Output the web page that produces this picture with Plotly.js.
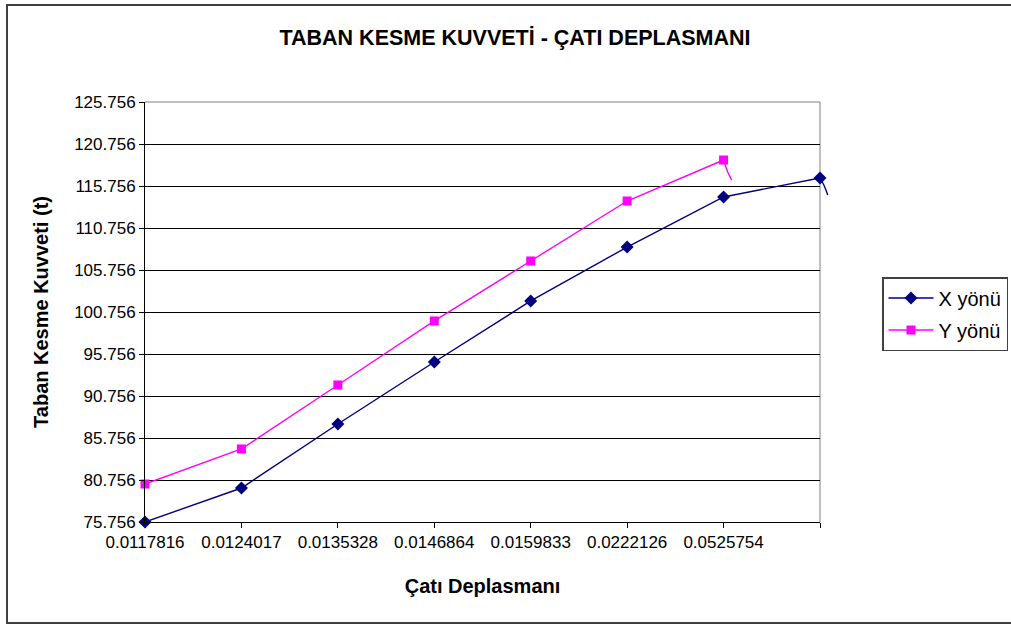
<!DOCTYPE html>
<html>
<head>
<meta charset="utf-8">
<script src="https://cdn.plot.ly/plotly-3.0.1.min.js"></script>
<style>html,body{margin:0;padding:0;background:#fff;}#chart{width:1011px;height:625px;}</style>
</head>
<body>
<div id="chart"></div>
<script>
// Category labels along the x axis (last category has no label)
const categories = ["0.0117816","0.0124017","0.0135328","0.0146864","0.0159833","0.0222126","0.0525754",""];
// Series values (taban kesme kuvveti, t)
const xYonu = [75.756, 79.80, 87.42, 94.80, 102.07, 108.49, 114.45, 116.71];
const yYonu = [80.28, 84.45, 92.07, 99.69, 106.83, 113.97, 118.85];
// Small trailing hooks after the last point of each series
const xTailPos = [7, 7.04, 7.08];
const xTailVal = [116.71, 115.87, 114.69];
const yTailPos = [6, 6.035, 6.083];
const yTailVal = [118.85, 117.66, 116.47];
// Y tick labels
const yTickVals = [75.756, 80.756, 85.756, 90.756, 95.756, 100.756, 105.756, 110.756, 115.756, 120.756, 125.756];
const yTickText = yTickVals.map(v => v.toFixed(3));

const catPos = categories.map((c, i) => i);
const FONT = "Liberation Sans, Arial, sans-serif";
const NAVY = "#000080", MAG = "#FF00FF";

// main plot area spans 675 px of a 685 px wide paper; the overlay axis is a bit wider for the hooks
const DOM = 675 / 685;
const X2MAX = (catPos.length - 1) / DOM;

const traces = [
  {x: catPos.slice(0, xYonu.length), y: xYonu, name: "X yönü", type: "scatter", mode: "lines+markers",
   line: {color: NAVY, width: 1.4}, marker: {symbol: "diamond", size: 10, color: NAVY},
   cliponaxis: false, legendgroup: "a"},
  {x: catPos.slice(0, yYonu.length), y: yYonu, name: "Y yönü", type: "scatter", mode: "lines+markers",
   line: {color: MAG, width: 1.4}, marker: {symbol: "square", size: 9, color: MAG},
   cliponaxis: false, legendgroup: "b"},
  {x: xTailPos, y: xTailVal, type: "scatter", mode: "lines", line: {color: NAVY, width: 1.4, shape: "spline"},
   showlegend: false, hoverinfo: "skip", xaxis: "x2", yaxis: "y2"},
  {x: yTailPos, y: yTailVal, type: "scatter", mode: "lines", line: {color: MAG, width: 1.4, shape: "spline"},
   showlegend: false, hoverinfo: "skip", xaxis: "x2", yaxis: "y2"}
];

const layout = {
  width: 1011, height: 625,
  margin: {l: 145, r: 181, t: 102, b: 103, autoexpand: false},
  paper_bgcolor: "#ffffff", plot_bgcolor: "rgba(0,0,0,0)",
  font: {family: FONT, color: "#000"},
  showlegend: true,
  title: {text: "<b>TABAN KESME KUVVETİ - ÇATI DEPLASMANI</b>", font: {family: FONT, size: 21.5, color: "#000"},
          xref: "container", x: 515 / 1011, xanchor: "center", yref: "container", y: 1 - 37 / 625, yanchor: "middle"},
  xaxis: {
    domain: [0, DOM],
    range: [0, catPos.length - 1], tickmode: "array", tickvals: catPos, ticktext: categories,
    showgrid: false, zeroline: false, showline: true, linecolor: "#000", linewidth: 1,
    ticks: "outside", ticklen: 5, tickcolor: "#000",
    tickfont: {family: FONT, size: 17, color: "#000"},
    title: {text: "<b>Çatı Deplasmanı</b>", font: {family: FONT, size: 20, color: "#000"}, standoff: 27},
    automargin: false
  },
  yaxis: {
    range: [75.756, 125.756], tickmode: "array", tickvals: yTickVals, ticktext: yTickText,
    showgrid: true, gridcolor: "#000", gridwidth: 1, zeroline: false,
    showline: true, linecolor: "#000", linewidth: 1,
    ticks: "outside", ticklen: 5, tickcolor: "#000",
    tickfont: {family: FONT, size: 17, color: "#000"},
    title: {text: "<b>Taban Kesme Kuvveti (t)</b>", font: {family: FONT, size: 20, color: "#000"}, standoff: 20},
    automargin: false
  },
  xaxis2: {domain: [0, 1], range: [0, X2MAX], anchor: "y2", visible: false, showgrid: false, zeroline: false},
  yaxis2: {range: [75.756, 125.756], anchor: "x2", overlaying: "y", visible: false, showgrid: false, zeroline: false},
  legend: {
    x: (882 - 145) / 685, y: (522 - 277) / 420, xanchor: "left", yanchor: "top",
    bordercolor: "#404040", borderwidth: 1.5, bgcolor: "#fff",
    font: {family: FONT, size: 20, color: "#000"},
    itemwidth: 45, tracegroupgap: 3, traceorder: "grouped"
  },
  shapes: [
    {type: "line", xref: "paper", yref: "paper", x0: 0, x1: DOM, y0: 1, y1: 1, line: {color: "#808080", width: 1}, layer: "above"},
    {type: "line", xref: "paper", yref: "paper", x0: DOM, x1: DOM, y0: 0, y1: 1, line: {color: "#808080", width: 1}, layer: "below"},
    {type: "rect", xref: "paper", yref: "paper", x0: -138 / 685, x1: 875 / 685, y0: -0.2405, y1: 1.231,
     line: {color: "#404040", width: 2}, fillcolor: "rgba(0,0,0,0)", layer: "below"}
  ]
};

Plotly.newPlot("chart", traces, layout, {displayModeBar: false, staticPlot: true});
</script>
</body>
</html>
